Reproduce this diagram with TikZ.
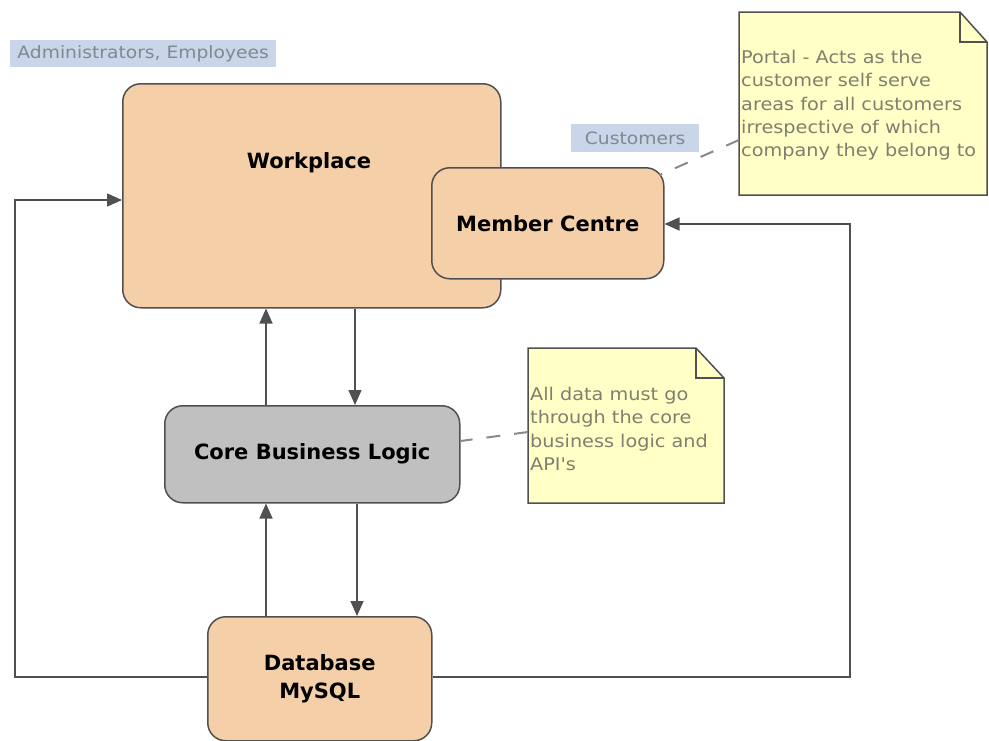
\documentclass[tikz,border=0pt]{standalone}
\usepackage{fontspec}
\setmainfont{DejaVu Sans}
\newfontfamily\notefont[FakeStretch=1.1]{DejaVu Sans}
\usetikzlibrary{arrows.meta,calc}
\definecolor{peach}{HTML}{F5CFA8}
\definecolor{edge}{HTML}{505050}
\definecolor{grayfill}{HTML}{C0C0C0}
\definecolor{notefill}{HTML}{FFFFC6}
\definecolor{notetext}{HTML}{7F7F70}
\definecolor{labfill}{HTML}{C9D5E8}
\definecolor{labtext}{HTML}{808890}
\definecolor{dashcol}{HTML}{8A8A8A}
\tikzset{
  box/.style={draw=edge, line width=1.5pt, rounded corners=18pt, fill=peach, inner sep=0pt},
  title/.style={font=\fontsize{21}{28}\selectfont\bfseries, text=black, align=center},
  lab/.style={fill=labfill, text=labtext, font=\notefont\fontsize{17}{20}\selectfont, inner sep=2pt},
  notebox/.style={draw=edge, line width=1.5pt, fill=notefill},
  notetxt/.style={text=notetext, font=\notefont\fontsize{17.5}{23.3}\selectfont, align=left, inner sep=0pt, anchor=north west},
  conn/.style={draw=edge, line width=1.5pt, -{Triangle[length=15pt,width=13pt]}},
  dashln/.style={draw=dashcol, line width=2pt, dash pattern=on 14pt off 14pt},
}
\begin{document}
\begin{tikzpicture}[x=1pt,y=-1pt]
\useasboundingbox (0,0) rectangle (989,740);
\fill[white] (0,0) rectangle (989,740);
% labels
\node[lab, minimum width=266, minimum height=27, anchor=north west] (adm) at (10,40) {Administrators, Employees};
\node[lab, minimum width=128, minimum height=28, anchor=north west] (cust) at (571,124) {Customers};
% boxes
\node[box, minimum width=378, minimum height=224, anchor=north west] (wp) at (122,83) {};
\node[title] (wpt) at (309,163) {Workplace};
\node[box, minimum width=232, minimum height=111, anchor=north west, title] (mc) at (431,167) {Member Centre};
\node[box, fill=grayfill, minimum width=295, minimum height=97, anchor=north west, title] (cbl) at (164,405) {Core Business Logic};
\node[box, minimum width=224, minimum height=124, anchor=north west, title] (db) at (207,616) {Database\\MySQL};
% notes
\draw[notebox] (739,12) -- (960,12) -- (987,42) -- (987,195) -- (739,195) -- cycle;
\draw[edge, line width=1.5pt] (960,12) -- (960,42) -- (987,42);
\coordinate (n1) at (739,140);
\node[notetxt] (n1t) at (741,50) {Portal - Acts as the\\customer self serve\\areas for all customers\\irrespective of which\\company they belong to};
\draw[notebox] (528,348) -- (696,348) -- (724,378) -- (724,503) -- (528,503) -- cycle;
\draw[edge, line width=1.5pt] (696,348) -- (696,378) -- (724,378);
\coordinate (n2) at (528,432);
\node[notetxt] (n2t) at (530,387) {All data must go\\through the core\\business logic and\\API's};
% dashed note links
\draw[dashln] (n1) -- ($(mc.north east)+(-5,8)$);
\draw[dashln] (n2) -- (cbl.east |- 0,441);
% connectors
\draw[conn] (cbl.north -| 266,0) -- (wp.south -| 266,0);
\draw[conn] (wp.south -| 355,0) -- (cbl.north -| 355,0);
\draw[conn] (db.north -| 266,0) -- (cbl.south -| 266,0);
\draw[conn] (cbl.south -| 357,0) -- (db.north -| 357,0);
\coordinate (lc1) at (15,677);
\coordinate (lc2) at (15,200);
\draw[conn] (db.west |- lc1) -- (lc1) -- (lc2) -- (wp.west |- lc2);
\coordinate (rc1) at (850,677);
\coordinate (rc2) at (850,224);
\draw[conn] (db.east |- rc1) -- (rc1) -- (rc2) -- (mc.east |- rc2);
\end{tikzpicture}
\end{document}
